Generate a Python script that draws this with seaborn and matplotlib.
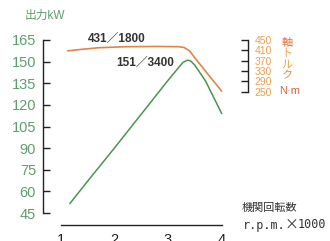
import matplotlib
matplotlib.use('Agg')
import matplotlib.pyplot as plt
import seaborn as sns
import pandas as pd

# 出力 (kW) vs 機関回転数 (x1000 rpm)
rpm_power = [1.17, 1.5, 2.0, 2.5, 3.0, 3.2, 3.28, 3.36, 3.42, 3.5, 3.7, 4.0]
power_kw = [51.5, 67, 90, 113.5, 137, 146, 149.5, 151, 150.5, 147.5, 136.5, 114]

# 軸トルク (N·m)
rpm_torque = [1.13, 1.4, 1.7, 2.2, 2.8, 3.2, 3.3, 3.4, 3.5, 3.7, 4.0]
torque_nm = [408, 414, 420, 424, 425, 424, 421, 408, 381, 329, 252]

power_ticks = [45, 60, 75, 90, 105, 120, 135, 150, 165]
torque_ticks = [250, 290, 330, 370, 410, 450]
rpm_ticks = [1, 2, 3, 4]

sns.set_theme(style='white')
plt.rcParams['font.family'] = ['Liberation Sans', 'Noto Sans CJK JP', 'DejaVu Sans']

W, H = 330, 241
fig = plt.figure(figsize=(W / 100, H / 100), dpi=100)
ax = fig.add_axes([43 / W, 1 - 225 / H, (221.7 - 43) / W, (225 - 40) / H])

df_p = pd.DataFrame({'rpm': rpm_power, 'kw': power_kw})
sns.lineplot(data=df_p, x='rpm', y='kw', ax=ax, color='#4a9452', lw=1.1,
             sort=False, estimator=None, clip_on=False)
ax.set_xlim(0.6704, 4.0)
ax.set_ylim(36.68, 165)
ax.set_xticks(rpm_ticks)
ax.set_yticks(power_ticks)
ax.set_xlabel('')
ax.set_ylabel('')
for s in ['top', 'right']:
    ax.spines[s].set_visible(False)
ax.spines['left'].set_bounds(45, 165)
ax.spines['bottom'].set_bounds(1, 4)
for s in ['left', 'bottom']:
    ax.spines[s].set_color('#222222')
    ax.spines[s].set_linewidth(1.0)
ax.tick_params(axis='y', direction='in', length=5, width=1.0, color='#222222',
               labelsize=10.5, labelcolor='#5e9e6c', pad=5)
ax.tick_params(axis='x', direction='in', length=4.5, width=1.0, color='#222222',
               labelsize=10.5, labelcolor='#222222', pad=5.5)
ax.patch.set_alpha(0)

ax2 = ax.twinx()
df_t = pd.DataFrame({'rpm': rpm_torque, 'nm': torque_nm})
sns.lineplot(data=df_t, x='rpm', y='nm', ax=ax2, color='#e2844a', lw=1.2,
             sort=False, estimator=None, clip_on=False)
ax2.set_ylim(-265.7, 450)
ax2.set_yticks(torque_ticks)
ax2.set_xlabel('')
ax2.set_ylabel('')
for s in ['top', 'left', 'bottom']:
    ax2.spines[s].set_visible(False)
ax2.spines['right'].set_position(('axes', (248 - 43) / (221.7 - 43)))
ax2.spines['right'].set_bounds(250, 450)
ax2.spines['right'].set_color('#222222')
ax2.spines['right'].set_linewidth(1.0)
ax2.tick_params(axis='y', direction='in', length=5, width=1.0, color='#222222',
                labelsize=7.5, labelcolor='#e8a050', pad=4.5)


def px(x, y):
    return x / W, 1 - y / H


fig.text(*px(45, 16), '出力kW', color='#5e9e6c', fontsize=8.5,
         ha='center', va='center', family=['Liberation Sans', 'Noto Sans CJK JP'])
fig.text(*px(117, 39), '431／1800', color='#333333', fontsize=8.5, fontweight='bold',
         ha='center', va='center', family=['Liberation Sans', 'Noto Sans CJK JP'])
fig.text(*px(145, 62.5), '151／3400', color='#333333', fontsize=8.5, fontweight='bold',
         ha='center', va='center', family=['Liberation Sans', 'Noto Sans CJK JP'])

for ch, yy, col in zip('軸トルク', [42.5, 53.5, 64.5, 75.5],
                       ['#e07038', '#eba040', '#eba040', '#e89040']):
    fig.text(*px(287, yy), ch, color=col, fontsize=8, ha='center', va='center',
             family=['Noto Sans CJK JP'])
fig.text(*px(290, 90.5), 'N·m', color='#e06040', fontsize=8, ha='center', va='center')

fig.text(*px(242, 207.5), '機関回転数', color='#333333', fontsize=8,
         ha='left', va='center', family=['Noto Sans CJK JP'])
fig.text(*px(243, 225), 'r.p.m.', color='#333333', fontsize=8.5,
         ha='left', va='center', family=['DejaVu Sans Mono'])
fig.text(*px(285, 225), '×', color='#333333', fontsize=10,
         ha='left', va='center', family=['Noto Sans CJK JP'])
fig.text(*px(298, 225), '1000', color='#333333', fontsize=8.5,
         ha='left', va='center', family=['DejaVu Sans Mono'])

fig.savefig('out.png', dpi=100)
